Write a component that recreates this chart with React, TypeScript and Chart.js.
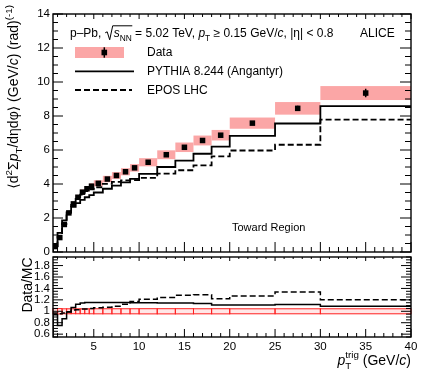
import React, { useEffect, useRef } from "react";
import { Chart, registerables } from "chart.js";

Chart.register(...registerables);

const FONT = "'Liberation Sans', Arial, 'DejaVu Sans', sans-serif";

// ---------------- data ----------------
const binEdges = [0.5, 1, 1.5, 2, 2.5, 3, 3.5, 4, 4.5, 5, 6, 7, 8, 9, 10, 12, 14, 16, 18, 20, 25, 30, 40];
const dataValues = [0.32, 0.85, 1.62, 2.3, 2.83, 3.22, 3.52, 3.72, 3.87, 4.04, 4.29, 4.5, 4.72, 4.95, 5.28, 5.72, 6.16, 6.56, 6.87, 7.58, 8.45, 9.35];
const dataStat = [0.01, 0.01, 0.01, 0.01, 0.01, 0.02, 0.02, 0.02, 0.02, 0.02, 0.03, 0.03, 0.04, 0.04, 0.04, 0.05, 0.06, 0.07, 0.08, 0.1, 0.15, 0.25];
const dataSys = [0.015, 0.04, 0.07, 0.1, 0.12, 0.14, 0.15, 0.16, 0.17, 0.18, 0.19, 0.2, 0.21, 0.22, 0.24, 0.26, 0.28, 0.29, 0.31, 0.33, 0.37, 0.41];
const pythiaValues = [0.34, 1.13, 1.86, 2.33, 2.65, 2.87, 3.07, 3.22, 3.35, 3.5, 3.72, 3.9, 4.09, 4.3, 4.6, 5.0, 5.38, 5.78, 6.2, 6.83, 7.56, 8.58];
const eposValues = [0.33, 0.89, 1.67, 2.32, 2.77, 3.13, 3.38, 3.58, 3.69, 3.81, 4.01, 4.13, 4.21, 4.23, 4.36, 4.61, 4.81, 5.09, 5.63, 5.97, 6.31, 7.79];

const xTickValues = [5, 10, 15, 20, 25, 30, 35, 40];
const xTickLabels = ["5", "10", "15", "20", "25", "30", "35", "40"];
const mainYTickValues = [0, 2, 4, 6, 8, 10, 12, 14];
const mainYTickLabels = ["0", "2", "4", "6", "8", "10", "12", "14"];
const ratioYTickValues = [0.6, 0.8, 1.0, 1.2, 1.4, 1.6, 1.8];
const ratioYTickLabels = ["0.6", "0.8", "1", "1.2", "1.4", "1.6", "1.8"];

const legendLabels = ["Data", "PYTHIA 8.244 (Angantyr)", "EPOS LHC"];

// ---------------- helpers ----------------
const PINK = "rgb(251,166,166)";
const binCenters = dataValues.map((_, i) => (binEdges[i] + binEdges[i + 1]) / 2);

function stepPoints(vals: number[]) {
  const pts: { x: number; y: number }[] = [{ x: binEdges[0], y: 0 }];
  vals.forEach((v, i) => pts.push({ x: binEdges[i], y: v }));
  pts.push({ x: binEdges[vals.length], y: vals[vals.length - 1] });
  return pts;
}

type Seg = { t: string; it?: boolean; sub?: boolean; sup?: boolean };
function segFont(s: Seg, size: number) {
  const sz = s.sub || s.sup ? size * 0.7 : size;
  return `${s.it ? "italic " : ""}${sz}px ${FONT}`;
}
function drawRich(ctx: CanvasRenderingContext2D, segs: Seg[], x: number, y: number, size: number, draw = true) {
  let cx = x;
  ctx.textBaseline = "alphabetic";
  ctx.textAlign = "left";
  for (const s of segs) {
    ctx.font = segFont(s, size);
    const dy = s.sub ? size * 0.3 : s.sup ? -size * 0.42 : 0;
    if (draw) ctx.fillText(s.t, cx, y + dy);
    cx += ctx.measureText(s.t).width;
  }
  return cx;
}

type TickCfg = {
  xBotMajor: number; xBotMinor: number; xTopMajor: number; xTopMinor: number;
  yMinorStep: number; yPerMajor: number;
  yLeftMajor: number; yLeftMinor: number; yRightMajor: number; yRightMinor: number;
};
function drawFrameTicks(chart: any, o: TickCfg) {
  const { ctx, chartArea: a, scales } = chart;
  const xs = scales.x, ys = scales.y;
  ctx.save();
  ctx.strokeStyle = "#000";
  ctx.lineWidth = 1;
  ctx.beginPath();
  for (let v = Math.ceil(xs.min); v <= xs.max; v++) {
    const px = xs.getPixelForValue(v);
    const major = v % 5 === 0;
    const lb = major ? o.xBotMajor : o.xBotMinor;
    const lt = major ? o.xTopMajor : o.xTopMinor;
    ctx.moveTo(px, a.bottom); ctx.lineTo(px, a.bottom - lb);
    ctx.moveTo(px, a.top); ctx.lineTo(px, a.top + lt);
  }
  const k0 = Math.ceil(ys.min / o.yMinorStep - 1e-6);
  const k1 = Math.floor(ys.max / o.yMinorStep + 1e-6);
  for (let k = k0; k <= k1; k++) {
    const py = ys.getPixelForValue(k * o.yMinorStep);
    const major = k % o.yPerMajor === 0;
    const ll = major ? o.yLeftMajor : o.yLeftMinor;
    const lr = major ? o.yRightMajor : o.yRightMinor;
    ctx.moveTo(a.left, py); ctx.lineTo(a.left + ll, py);
    ctx.moveTo(a.right, py); ctx.lineTo(a.right - lr, py);
  }
  ctx.stroke();
  ctx.lineWidth = 1.4;
  ctx.strokeRect(a.left, a.top, a.right - a.left, a.bottom - a.top);
  ctx.restore();
}

// ---------------- plugins ----------------
const mainPlugin = {
  id: "mainDecor",
  beforeDatasetsDraw(chart: any) {
    const { ctx, scales } = chart;
    const xs = scales.x, ys = scales.y;
    ctx.save();
    ctx.fillStyle = PINK;
    dataValues.forEach((v, i) => {
      const x1 = xs.getPixelForValue(binEdges[i]);
      const x2 = xs.getPixelForValue(binEdges[i + 1]);
      const y1 = ys.getPixelForValue(v + dataSys[i]);
      const y2 = ys.getPixelForValue(v - dataSys[i]);
      ctx.fillRect(x1, y1, x2 - x1, y2 - y1);
    });
    ctx.restore();
  },
  afterDatasetsDraw(chart: any) {
    const { ctx, scales } = chart;
    const xs = scales.x, ys = scales.y;
    ctx.save();
    ctx.strokeStyle = "#000";
    ctx.lineWidth = 1.5;
    ctx.beginPath();
    dataValues.forEach((v, i) => {
      const x = xs.getPixelForValue(binCenters[i]);
      ctx.moveTo(x, ys.getPixelForValue(v + dataStat[i]));
      ctx.lineTo(x, ys.getPixelForValue(v - dataStat[i]));
    });
    ctx.stroke();
    ctx.restore();
  },
  afterDraw(chart: any) {
    const ctx: CanvasRenderingContext2D = chart.ctx;
    drawFrameTicks(chart, {
      xBotMajor: 10, xBotMinor: 5, xTopMajor: 5, xTopMinor: 3,
      yMinorStep: 0.5, yPerMajor: 4,
      yLeftMajor: 10, yLeftMinor: 5, yRightMajor: 11, yRightMinor: 6,
    });
    ctx.save();
    ctx.fillStyle = "#000";
    ctx.strokeStyle = "#000";
    // header
    const hb = 37.3;
    let x = drawRich(ctx, [{ t: "p–Pb, " }], 70, hb, 12);
    const rx = x + 0.5;
    const sStart = rx + 8.5;
    const sEnd = drawRich(ctx, [{ t: "s", it: true }, { t: "NN", sub: true }], sStart, hb, 12);
    ctx.lineWidth = 1;
    ctx.beginPath();
    ctx.moveTo(rx, hb - 4.5);
    ctx.lineTo(rx + 2, hb - 5.5);
    ctx.lineTo(rx + 4.5, hb + 2.5);
    ctx.lineTo(rx + 7.5, hb - 11.5);
    ctx.lineTo(sEnd + 0.5, hb - 11.5);
    ctx.stroke();
    drawRich(ctx, [
      { t: " = 5.02 TeV, " }, { t: "p", it: true }, { t: "T", sub: true },
      { t: " ≥ 0.15 GeV/" }, { t: "c", it: true }, { t: ", |η| < 0.8" },
    ], sEnd, hb, 12);
    drawRich(ctx, [{ t: "ALICE" }], 360, hb, 12);

    // legend
    ctx.fillStyle = PINK;
    ctx.fillRect(75, 47, 49, 11);
    ctx.fillStyle = "#000";
    ctx.fillRect(104.3 - 2.8, 52.5 - 2.8, 5.6, 5.6);
    ctx.lineWidth = 1.5;
    ctx.beginPath();
    ctx.moveTo(104.3, 47.3); ctx.lineTo(104.3, 57.7);
    ctx.stroke();
    ctx.lineWidth = 1.8;
    ctx.beginPath();
    ctx.moveTo(75, 71.3); ctx.lineTo(134, 71.3);
    ctx.stroke();
    ctx.setLineDash([6, 3]);
    ctx.beginPath();
    ctx.moveTo(75, 90); ctx.lineTo(132, 90);
    ctx.stroke();
    ctx.setLineDash([]);
    ctx.font = `12px ${FONT}`;
    ctx.textBaseline = "middle";
    ctx.textAlign = "left";
    ctx.fillText(legendLabels[0], 147, 52.5);
    ctx.fillText(legendLabels[1], 147, 71.5);
    ctx.fillText(legendLabels[2], 147, 90.3);

    // region label
    ctx.font = `11px ${FONT}`;
    ctx.fillText("Toward Region", 232, 228.3);

    // y title
    const ySegs: Seg[] = [
      { t: "⟨d" }, { t: "2", sup: true }, { t: "Σ" }, { t: "p", it: true }, { t: "T", sub: true },
      { t: "/dηdφ⟩ (GeV/" }, { t: "c", it: true }, { t: ") (rad)" }, { t: "(-1)", sup: true },
    ];
    const w = drawRich(ctx, ySegs, 0, 0, 14, false);
    ctx.save();
    ctx.translate(18, 5 + w);
    ctx.rotate(-Math.PI / 2);
    drawRich(ctx, ySegs, 0, 0, 14);
    ctx.restore();
    ctx.restore();
  },
};

const ratioPlugin = {
  id: "ratioDecor",
  beforeDatasetsDraw(chart: any) {
    const { ctx, scales } = chart;
    const xs = scales.x, ys = scales.y;
    ctx.save();
    ctx.lineWidth = 1;
    dataValues.forEach((v, i) => {
      const rel = dataSys[i] / v;
      const x1 = xs.getPixelForValue(binEdges[i]);
      const x2 = xs.getPixelForValue(binEdges[i + 1]);
      const y1 = ys.getPixelForValue(1 + rel);
      const y2 = ys.getPixelForValue(1 - rel);
      ctx.fillStyle = "rgba(255,120,120,0.18)";
      ctx.fillRect(x1, y1, x2 - x1, y2 - y1);
      ctx.strokeStyle = "#ff2020";
      ctx.strokeRect(x1, y1, x2 - x1, y2 - y1);
    });
    ctx.restore();
  },
  afterDraw(chart: any) {
    const ctx: CanvasRenderingContext2D = chart.ctx;
    drawFrameTicks(chart, {
      xBotMajor: 8, xBotMinor: 4, xTopMajor: 4, xTopMinor: 2,
      yMinorStep: 0.05, yPerMajor: 4,
      yLeftMajor: 10, yLeftMinor: 5, yRightMajor: 10, yRightMinor: 5,
    });
    ctx.save();
    ctx.fillStyle = "#000";
    // Data/MC title
    const segs: Seg[] = [{ t: "Data/MC" }];
    const w = drawRich(ctx, segs, 0, 0, 14, false);
    ctx.save();
    ctx.translate(31.5, 285 - 254 + w / 2);
    ctx.rotate(-Math.PI / 2);
    drawRich(ctx, segs, 0, 0, 14);
    ctx.restore();
    // x title, right aligned at frame right
    const right = chart.chartArea.right;
    const base = 365 - 254;
    const size = 14;
    const rest: Seg[] = [{ t: " (GeV/" }, { t: "c", it: true }, { t: ")" }];
    const restW = drawRich(ctx, rest, 0, 0, size, false);
    ctx.font = `${size * 0.7}px ${FONT}`;
    const wT = ctx.measureText("T").width;
    const wTrig = ctx.measureText("trig").width;
    ctx.font = `italic ${size}px ${FONT}`;
    const wp = ctx.measureText("p").width;
    const total = wp + Math.max(wT, wTrig) + restW;
    let x = right - total;
    ctx.textBaseline = "alphabetic";
    ctx.textAlign = "left";
    ctx.fillText("p", x, base);
    x += wp;
    ctx.font = `${size * 0.7}px ${FONT}`;
    ctx.fillText("T", x, base + size * 0.3);
    ctx.fillText("trig", x, base - size * 0.5);
    x += Math.max(wT, wTrig);
    drawRich(ctx, rest, x, base, size);
    ctx.restore();
  },
};

// ---------------- component ----------------
export default function App() {
  const mainRef = useRef<HTMLCanvasElement>(null);
  const ratioRef = useRef<HTMLCanvasElement>(null);

  useEffect(() => {
    const tickFont = { family: FONT, size: 11.5 };
    const main = new Chart(mainRef.current!, {
      type: "line",
      data: {
        datasets: [
          {
            label: legendLabels[0],
            data: binCenters.map((c, i) => ({ x: c, y: dataValues[i] })),
            showLine: false,
            pointStyle: "rect",
            pointRadius: 3.9,
            backgroundColor: "#000",
            borderColor: "#000",
            borderWidth: 0,
            order: 0,
          },
          {
            label: legendLabels[1],
            data: stepPoints(pythiaValues),
            stepped: "before",
            borderColor: "#000",
            borderWidth: 1.8,
            pointRadius: 0,
            fill: false,
            order: 1,
          },
          {
            label: legendLabels[2],
            data: stepPoints(eposValues),
            stepped: "before",
            borderColor: "#000",
            borderWidth: 1.8,
            borderDash: [6, 3],
            pointRadius: 0,
            fill: false,
            order: 2,
          },
        ],
      } as any,
      options: {
        responsive: false,
        animation: false,
        events: [],
        layout: { padding: { top: 14, right: 20, bottom: 10, left: 0 } },
        plugins: { legend: { display: false }, tooltip: { enabled: false } },
        scales: {
          x: { type: "linear", min: 0.5, max: 40, display: false },
          y: {
            type: "linear",
            min: 0,
            max: 14,
            afterBuildTicks: (s: any) => { s.ticks = mainYTickValues.map((v) => ({ value: v })); },
            ticks: {
              callback: (_v: any, i: number) => mainYTickLabels[i],
              font: tickFont,
              color: "#000",
              padding: 3,
              autoSkip: false,
            },
            grid: { display: false, drawTicks: false },
            border: { display: false },
            afterFit: (s: any) => { s.width = 53; s.paddingTop = 0; s.paddingBottom = 0; },
          },
        },
      } as any,
      plugins: [mainPlugin],
    });

    const ratio = new Chart(ratioRef.current!, {
      type: "line",
      data: {
        datasets: [
          {
            label: legendLabels[1],
            data: stepPoints(dataValues.map((v, i) => v / pythiaValues[i])),
            stepped: "before",
            borderColor: "#000",
            borderWidth: 1.5,
            pointRadius: 0,
            fill: false,
          },
          {
            label: legendLabels[2],
            data: stepPoints(dataValues.map((v, i) => v / eposValues[i])),
            stepped: "before",
            borderColor: "#000",
            borderWidth: 1.5,
            borderDash: [6, 3],
            pointRadius: 0,
            fill: false,
          },
        ],
      } as any,
      options: {
        responsive: false,
        animation: false,
        events: [],
        layout: { padding: { top: 3, right: 20, bottom: 0, left: 0 } },
        plugins: { legend: { display: false }, tooltip: { enabled: false } },
        scales: {
          x: {
            type: "linear",
            min: 0.5,
            max: 40,
            afterBuildTicks: (s: any) => { s.ticks = xTickValues.map((v) => ({ value: v })); },
            ticks: {
              callback: (_v: any, i: number) => xTickLabels[i],
              font: tickFont,
              color: "#000",
              padding: 3,
              maxRotation: 0,
              autoSkip: false,
            },
            grid: { display: false, drawTicks: false },
            border: { display: false },
            afterFit: (s: any) => { s.height = 39; s.paddingLeft = 0; s.paddingRight = 0; },
          },
          y: {
            type: "linear",
            min: 0.55,
            max: 1.95,
            afterBuildTicks: (s: any) => { s.ticks = ratioYTickValues.map((v) => ({ value: v })); },
            ticks: {
              callback: (_v: any, i: number) => ratioYTickLabels[i],
              font: tickFont,
              color: "#000",
              padding: 3,
              autoSkip: false,
            },
            grid: { display: false, drawTicks: false },
            border: { display: false },
            afterFit: (s: any) => { s.width = 53; s.paddingTop = 0; s.paddingBottom = 0; },
          },
        },
      } as any,
      plugins: [ratioPlugin],
    });

    return () => {
      main.destroy();
      ratio.destroy();
    };
  }, []);

  return (
    <div style={{ position: "fixed", left: 0, top: 0, width: 431, height: 376, background: "#fff" }}>
      <canvas ref={mainRef} width={431} height={262} style={{ position: "absolute", left: 0, top: 0 }} />
      <canvas ref={ratioRef} width={431} height={122} style={{ position: "absolute", left: 0, top: 254 }} />
    </div>
  );
}
